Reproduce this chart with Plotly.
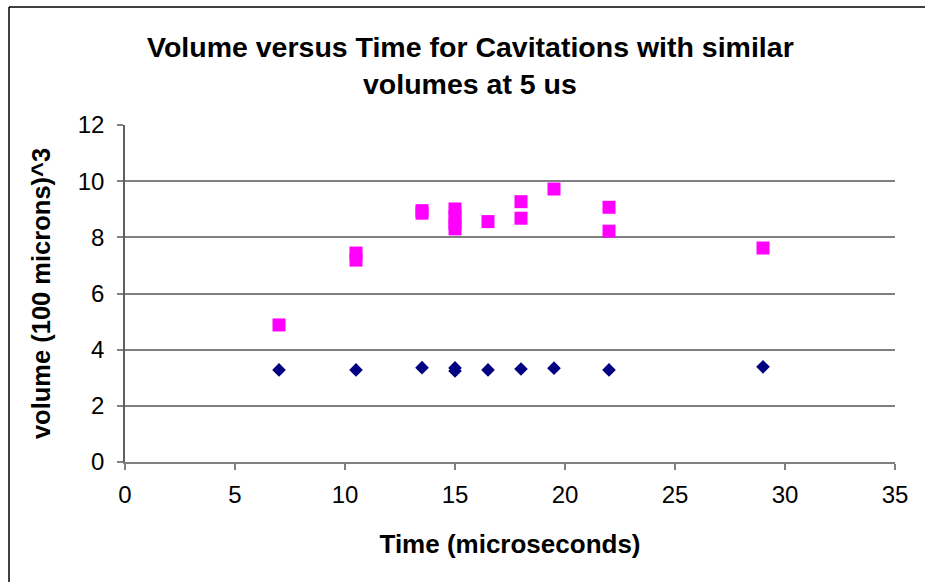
import plotly.graph_objects as go

# Series 1 (navy diamonds)
time_a = [7, 10.5, 13.5, 15, 15, 16.5, 18, 19.5, 22, 29]
vol_a = [3.28, 3.28, 3.36, 3.35, 3.24, 3.28, 3.31, 3.34, 3.28, 3.39]

# Series 2 (magenta squares)
time_b = [7, 10.5, 10.5, 13.5, 13.5, 15, 15, 15, 15, 16.5, 18, 18, 19.5, 22, 22, 29]
vol_b = [4.88, 7.44, 7.19, 8.95, 8.86, 9.01, 8.75, 8.5, 8.3, 8.56, 9.27, 8.68, 9.72, 9.07, 8.22, 7.62]

x_ticks = [0, 5, 10, 15, 20, 25, 30, 35]
y_ticks = [0, 2, 4, 6, 8, 10, 12]

title_lines = ["Volume versus Time for Cavitations with similar", "volumes at 5 us"]

W, H = 925, 582
L, R, T, B = 125, 30, 125, 120
pw, ph = W - L - R, H - T - B

def px_to_paper_x(px):
    return (px - L) / pw

def px_to_paper_y(py):
    return (H - B - py) / ph

FONT = "Liberation Sans, Arial, sans-serif"

fig = go.Figure()
fig.add_trace(go.Scatter(x=time_a, y=vol_a, mode="markers",
                         marker=dict(symbol="diamond", size=10.5, color="#000080",
                                     line=dict(width=0)), showlegend=False))
fig.add_trace(go.Scatter(x=time_b, y=vol_b, mode="markers",
                         marker=dict(symbol="square", size=13, color="#FF00FF",
                                     line=dict(width=0)), showlegend=False))

border = dict(color="black", width=1.5)
fig.update_layout(
    width=W, height=H,
    margin=dict(l=L, r=R, t=T, b=B),
    paper_bgcolor="white", plot_bgcolor="white",
    font=dict(family=FONT, size=24, color="black"),
    xaxis=dict(range=[0, 35], tickvals=x_ticks, showgrid=False, zeroline=False,
               showline=True, linecolor="#808080", linewidth=1.5,
               ticks="outside", ticklen=6, tickcolor="#808080", tickwidth=1.5,
               tickfont=dict(size=24), fixedrange=True, ticklabelstandoff=4,
               title=dict(text="<b>Time (microseconds)</b>", font=dict(size=26), standoff=28)),
    yaxis=dict(range=[0, 12], tickvals=y_ticks, showgrid=True, gridcolor="#808080", gridwidth=1.5,
               zeroline=False, showline=True, linecolor="#606060", linewidth=1.5,
               ticks="outside", ticklen=6, tickcolor="#808080", tickwidth=1.5,
               tickfont=dict(size=24), fixedrange=True, ticklabelstandoff=8,
               title=dict(text="<b>volume (100 microns)^3</b>", font=dict(size=25.5), standoff=20)),
    shapes=[
        dict(type="line", xref="paper", yref="paper",
             x0=px_to_paper_x(9), x1=px_to_paper_x(925),
             y0=px_to_paper_y(7), y1=px_to_paper_y(7), line=border, layer="below"),
        dict(type="line", xref="paper", yref="paper",
             x0=px_to_paper_x(9), x1=px_to_paper_x(9),
             y0=px_to_paper_y(7), y1=px_to_paper_y(582), line=border, layer="below"),
    ],
    annotations=[
        dict(text="<b>%s</b>" % title_lines[0], xref="paper", yref="paper",
             x=px_to_paper_x(470), y=px_to_paper_y(47), showarrow=False,
             xanchor="center", yanchor="middle", font=dict(size=28.5)),
        dict(text="<b>%s</b>" % title_lines[1], xref="paper", yref="paper",
             x=px_to_paper_x(470), y=px_to_paper_y(84), showarrow=False,
             xanchor="center", yanchor="middle", font=dict(size=28.5)),
    ],
)

fig.write_html("out.html")
